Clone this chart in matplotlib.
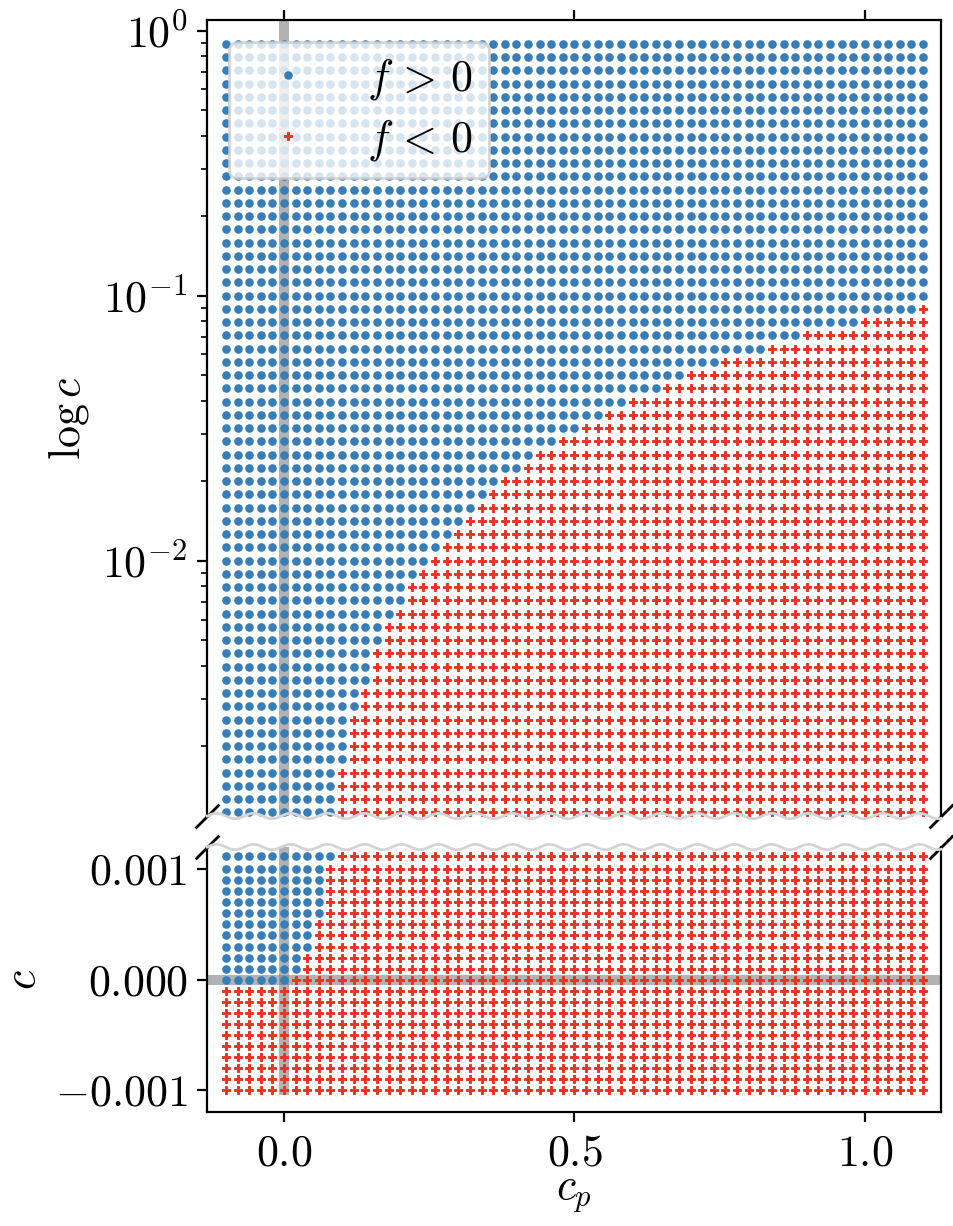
import numpy as np
import matplotlib
matplotlib.use('Agg')
from matplotlib import pyplot as plt

plt.rcParams['font.family'] = 'serif'
plt.rcParams['font.serif'] = ['cmr10']
plt.rcParams['mathtext.fontset'] = 'cm'
plt.rcParams['axes.formatter.use_mathtext'] = True
plt.rcParams['font.size'] = 15.8
plt.rcParams['xtick.major.pad'] = 4.5

# grid of sampled points
cp = np.linspace(-0.1, 1.1, 61)
c_lin = np.linspace(-0.001, 0.001, 21)
c_log = np.logspace(-2.95, -0.05, 59)

# for each row of c: the c_p from which f < 0 (nan = never)
edge_lin = [-0.10] * 10 + [0.02, 0.04, 0.04, 0.06, 0.06, 0.06, 0.08, 0.08, 0.08, 0.08, 0.08]
edge_log = ([0.10] * 4 + [0.12] * 4 + [0.14] * 2 + [0.16] * 3 + [0.18] * 2 + [0.20] + [0.22] * 2
            + [0.24, 0.26, 0.28, 0.30, 0.32, 0.34, 0.36, 0.38, 0.42, 0.44,
               0.48, 0.52, 0.56, 0.60, 0.66, 0.70, 0.76, 0.84, 0.90, 1.00, 1.10]
            + [np.nan] * 20)

blue = '#377eb8'
red = '#ea3323'


def split(cs, edges):
    X, Y = np.meshgrid(cp, cs)
    E = np.nan_to_num(np.array(edges, dtype=float), nan=np.inf)[:, None] + 0 * X
    neg = E <= X + 1e-9
    return X[~neg], Y[~neg], X[neg], Y[neg]


fig = plt.figure(figsize=(4.77, 6.13), dpi=200)
left, width = 0.2173, 0.7691
ax1 = fig.add_axes([left, 0.3344, width, 0.6493])
ax2 = fig.add_axes([left, 0.0927, width, 0.2164])

dot = dict(marker='o', ms=3.1, mew=0, ls='none', color=blue, zorder=3)
plus = dict(marker='P', ms=3.1, mew=0.35, ls='none', color=red, zorder=3)

# top panel, log scale
xp, yp, xn, yn = split(c_log, edge_log)
ax1.axvline(0, color='gray', alpha=0.6, lw=3.6, zorder=1)
ax1.plot(xp, yp, label=r'$f\,>\,0$', **dot)
ax1.plot(xn, yn, label=r'$f\,<\,0$', **plus)
ax1.set_yscale('log')
ax1.set_ylim(0.001088, 1.0975)

# bottom panel, linear scale
c_all = np.concatenate([c_lin, c_log])
xp, yp, xn, yn = split(c_all, edge_lin + edge_log)
ax2.plot([0, 0], [c_lin[0], 1], color='gray', alpha=0.6, lw=3.6, zorder=1)
ax2.axhline(0, color='gray', alpha=0.6, lw=3.6, zorder=1)
ax2.plot(xp, yp, **dot)
ax2.plot(xn, yn, **plus)
ax2.set_ylim(-0.0012, 0.0012)
ax2.set_yticks([-0.001, 0, 0.001])

for ax in (ax1, ax2):
    ax.set_xlim(-0.132, 1.131)
    ax.set_xticks([0, 0.5, 1.0])

ax1.spines['bottom'].set_visible(False)
ax2.spines['top'].set_visible(False)
ax1.xaxis.tick_top()
ax1.tick_params(labeltop=False)
ax2.xaxis.tick_bottom()

# wavy edges at the break
w_px = width * 954
for ax, y0, h_px in ((ax1, 0.0, 0.6493 * 1226), (ax2, 1.0, 0.2164 * 1226)):
    t = np.linspace(0, 1, 800)
    ax.plot(t, y0 + 2.7 / h_px * np.sin(2 * np.pi * t * w_px / 37), transform=ax.transAxes,
            color='0.83', lw=1.0, clip_on=False, zorder=5)

# diagonal break marks
kw = dict(marker=[(-1, -1), (1, 1)], markersize=8.6, ls='none', mec='k', mew=1.0, clip_on=False)
ax1.plot([0, 1], [0, 0], transform=ax1.transAxes, **kw)
ax2.plot([0, 1], [1, 1], transform=ax2.transAxes, **kw)

ax1.legend(loc='upper left', labelspacing=0.36, borderpad=0.35)
ax1.set_ylabel(r'$\log c$')
ax2.set_ylabel(r'$c$')
ax2.set_xlabel(r'$c_p$', labelpad=0)

fig.savefig('out.png', dpi=200)
